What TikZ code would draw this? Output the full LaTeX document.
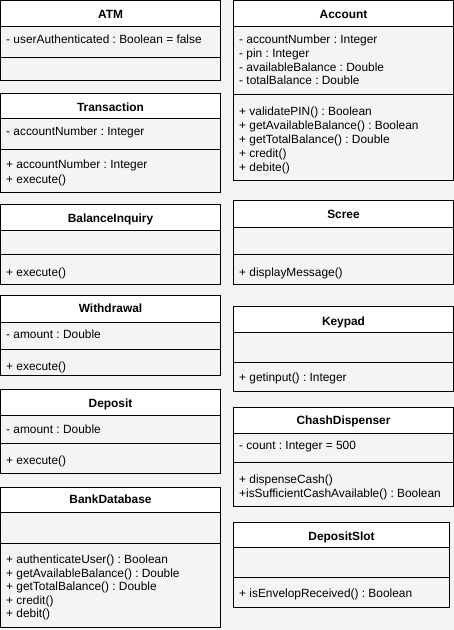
\documentclass[tikz,border=0pt]{standalone}
\usepackage{fontspec}
\setmainfont{Liberation Sans}
\frenchspacing
\definecolor{pagebg}{HTML}{F4F4F4}
\definecolor{compfill}{HTML}{F4F4F4}

% one UML class: name, left, right, top, end of name row, end of attribute row, bottom
\newcommand\umlclass[7]{%
  \filldraw[titlebox] (#2,#4) rectangle (#3,#5);
  \filldraw[compbox] (#2,#5) rectangle (#3,#6);
  \filldraw[compbox] (#2,#6) rectangle (#3,#7);
}

\tikzset{
  titlebox/.style={fill=white, draw=black, line width=1pt},
  compbox/.style={fill=compfill, draw=black, line width=1pt},
  ttl/.style={anchor=center, inner sep=0pt, text height=7.5pt, text depth=0pt,
              font=\fontsize{11.9}{14}\selectfont\frenchspacing\bfseries},
  member/.style={anchor=west, inner sep=0pt, text height=7.5pt, text depth=0pt,
              font=\fontsize{11.9}{14}\selectfont\frenchspacing},
}

\begin{document}
\begin{tikzpicture}[x=1pt, y=-1pt]
\useasboundingbox (0,0) rectangle (454,630);
\fill[pagebg] (0,0) rectangle (454,630);

% ---------------- left column ----------------
\umlclass{atm}{0.5}{220.5}{0.5}{26}{57}{80}
\node[ttl] (atm) at (110.5,15) {ATM};
\node[member] (atm-a1) at (6,40) {- userAuthenticated : Boolean = false};

\umlclass{transaction}{0.5}{220.5}{93}{118}{149}{192}
\node[ttl] (transaction) at (110.5,107.3) {Transaction};
\node[member] (transaction-a1) at (6,131.7) {- accountNumber : Integer};
\node[member] (transaction-m1) at (6,165) {+ accountNumber : Integer};
\node[member] (transaction-m2) at (6,179.5) {+ execute()};

\umlclass{balanceinquiry}{0.5}{220.5}{204}{230}{254}{284}
\node[ttl] (balanceinquiry) at (110.5,219) {BalanceInquiry};
\node[member] (balanceinquiry-m1) at (6,272.5) {+ execute()};

\umlclass{withdrawal}{0.5}{220.5}{295}{322}{349}{375}
\node[ttl] (withdrawal) at (110.5,308.5) {Withdrawal};
\node[member] (withdrawal-a1) at (6,335) {- amount : Double};
\node[member] (withdrawal-m1) at (6,366.5) {+ execute()};

\umlclass{deposit}{0.5}{220.5}{389.5}{415}{443}{473}
\node[ttl] (deposit) at (110.5,404) {Deposit};
\node[member] (deposit-a1) at (6,429.5) {- amount : Double};
\node[member] (deposit-m1) at (6,461) {+ execute()};

\umlclass{bankdatabase}{0.5}{220.5}{487}{512}{543}{627.5}
\node[ttl] (bankdatabase) at (110.5,500) {BankDatabase};
\foreach \t [count=\i] in {{+ authenticateUser() : Boolean},
    {+ getAvailableBalance() : Double}, {+ getTotalBalance() : Double},
    {+ credit()}, {+ debit()}}
  \node[member] (bankdatabase-m\i) at (6,{560+13.5*(\i-1)}) {\t};

% ---------------- right column ----------------
\umlclass{account}{233.5}{453.5}{0.5}{26}{94}{180}
\node[ttl] (account) at (343.5,15) {Account};
\foreach \t [count=\i] in {{- accountNumber : Integer}, {- pin : Integer},
    {- availableBalance : Double}, {- totalBalance : Double}}
  \node[member] (account-a\i) at (239,{40+13.7*(\i-1)}) {\t};
\foreach \t [count=\i] in {{+ validatePIN() : Boolean},
    {+ getAvailableBalance() : Boolean}, {+ getTotalBalance() : Double},
    {+ credit()}, {+ debite()}}
  \node[member] (account-m\i) at (239,{111.5+14*(\i-1)}) {\t};

\umlclass{scree}{233.5}{453.5}{200}{227}{254}{284}
\node[ttl] (scree) at (343.5,215) {Scree};
\node[member] (scree-m1) at (239,273) {+ displayMessage()};

\umlclass{keypad}{233.5}{453.5}{306}{332}{362}{391}
\node[ttl] (keypad) at (343.5,321.5) {Keypad};
\node[member] (keypad-m1) at (239,377.5) {+ getinput() : Integer};

\umlclass{cashdispenser}{233.5}{453.5}{407}{433}{462}{506}
\node[ttl] (cashdispenser) at (343.5,421) {ChashDispenser};
\node[member] (cashdispenser-a1) at (239,446) {- count : Integer = 500};
\node[member] (cashdispenser-m1) at (239,480) {+ dispenseCash()};
\node[member] (cashdispenser-m2) at (239,494) {+isSufficientCashAvailable() : Boolean};

\umlclass{depositslot}{233.5}{449.5}{522}{547}{577}{607}
\node[ttl] (depositslot) at (341.5,536.5) {DepositSlot};
\node[member] (depositslot-m1) at (239,594) {+ isEnvelopReceived() : Boolean};
\end{tikzpicture}
\end{document}
